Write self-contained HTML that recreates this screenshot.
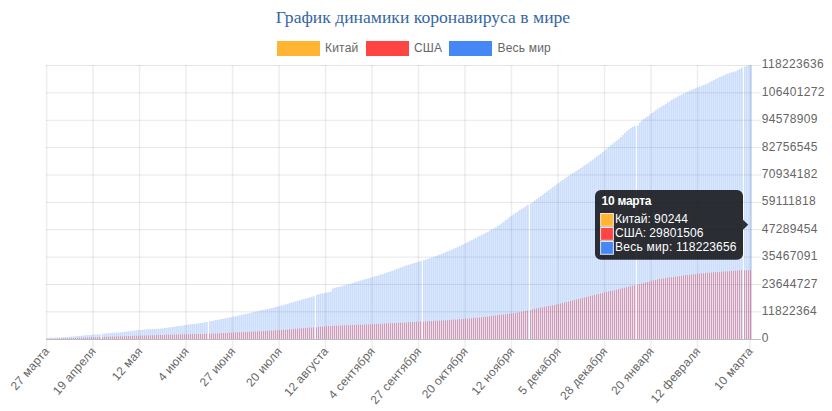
<!DOCTYPE html>
<html><head><meta charset="utf-8"><style>
html,body{margin:0;padding:0;background:#fff;width:832px;height:411px;overflow:hidden;position:relative}
.title{position:absolute;left:0;top:0;width:846px;text-align:center;font-family:"Liberation Serif",serif;font-size:17.6px;color:#3466a2;line-height:20px;top:7px;white-space:nowrap}
.leg{position:absolute;top:41.5px;height:15px}
.box{position:absolute;width:42.9px;height:15.1px}
.lt{position:absolute;font-family:"Liberation Sans",sans-serif;font-size:12px;color:#666;line-height:15px;white-space:nowrap;letter-spacing:0.2px}
</style></head><body>
<div class="title">График динамики коронавируса в мире</div>
<div class="box" style="left:277.2px;top:41.4px;background:#ffb532;border-color:#ffb532"></div>
<div class="lt" style="left:325px;top:41px">Китай</div>
<div class="box" style="left:366.4px;top:41.4px;background:#ff4444;border-color:#ff4444"></div>
<div class="lt" style="left:414px;top:41px">США</div>
<div class="box" style="left:449.4px;top:41.4px;background:#4588f5;border-color:#4588f5"></div>
<div class="lt" style="left:497.5px;top:41px">Весь мир</div>
<svg width="832" height="411" viewBox="0 0 832 411" style="position:absolute;left:0;top:0">
<rect x="46" y="65.00" width="715" height="1" fill="rgba(0,0,0,0.1)"/><rect x="46" y="92.37" width="715" height="1" fill="rgba(0,0,0,0.1)"/><rect x="46" y="119.74" width="715" height="1" fill="rgba(0,0,0,0.1)"/><rect x="46" y="147.11" width="715" height="1" fill="rgba(0,0,0,0.1)"/><rect x="46" y="174.48" width="715" height="1" fill="rgba(0,0,0,0.1)"/><rect x="46" y="201.85" width="715" height="1" fill="rgba(0,0,0,0.1)"/><rect x="46" y="229.22" width="715" height="1" fill="rgba(0,0,0,0.1)"/><rect x="46" y="256.59" width="715" height="1" fill="rgba(0,0,0,0.1)"/><rect x="46" y="283.96" width="715" height="1" fill="rgba(0,0,0,0.1)"/><rect x="46" y="311.33" width="715" height="1" fill="rgba(0,0,0,0.1)"/><rect x="45.80" y="65" width="1.5" height="285" fill="rgba(0,0,0,0.07)"/><rect x="92.30" y="65" width="1.5" height="285" fill="rgba(0,0,0,0.07)"/><rect x="138.79" y="65" width="1.5" height="285" fill="rgba(0,0,0,0.07)"/><rect x="185.29" y="65" width="1.5" height="285" fill="rgba(0,0,0,0.07)"/><rect x="231.79" y="65" width="1.5" height="285" fill="rgba(0,0,0,0.07)"/><rect x="278.28" y="65" width="1.5" height="285" fill="rgba(0,0,0,0.07)"/><rect x="324.78" y="65" width="1.5" height="285" fill="rgba(0,0,0,0.07)"/><rect x="371.28" y="65" width="1.5" height="285" fill="rgba(0,0,0,0.07)"/><rect x="417.77" y="65" width="1.5" height="285" fill="rgba(0,0,0,0.07)"/><rect x="464.27" y="65" width="1.5" height="285" fill="rgba(0,0,0,0.07)"/><rect x="510.77" y="65" width="1.5" height="285" fill="rgba(0,0,0,0.07)"/><rect x="557.26" y="65" width="1.5" height="285" fill="rgba(0,0,0,0.07)"/><rect x="603.76" y="65" width="1.5" height="285" fill="rgba(0,0,0,0.07)"/><rect x="650.26" y="65" width="1.5" height="285" fill="rgba(0,0,0,0.07)"/><rect x="696.76" y="65" width="1.5" height="285" fill="rgba(0,0,0,0.07)"/><rect x="749.32" y="65" width="1.5" height="285" fill="rgba(0,0,0,0.07)"/><rect x="46" y="339" width="715" height="1" fill="#bdbdbd"/>
<path d="M47 337.93H48V339H47ZM49 337.86H50V339H49ZM51 337.78H52V339H51ZM53 337.69H54V339H53ZM55 337.59H56V339H55ZM57 337.49H58V339H57ZM59 337.38H60V339H59ZM61 337.27H62V339H61ZM63 337.15H64V339H63ZM65 337.03H66V339H65ZM67 336.90H68V339H67ZM69 336.77H70V339H69ZM71 336.62H72V339H71ZM73 336.45H74V339H73ZM75 336.27H76V339H75ZM77 336.07H78V339H77ZM79 335.87H80V339H79ZM81 335.66H82V339H81ZM83 335.45H84V339H83ZM85 335.25H86V339H85ZM87 335.06H88V339H87ZM89 334.88H90V339H89ZM91 334.72H92V339H91ZM93 334.59H94V339H93ZM95 334.50H96V339H95ZM97 334.38H98V339H97ZM99 334.20H100V339H99ZM102 333.64H103V339H102ZM104 333.39H105V339H104ZM106 333.21H107V339H106ZM108 333.06H109V339H108ZM110 332.94H111V339H110ZM112 332.84H113V339H112ZM114 332.72H115V339H114ZM116 332.58H117V339H116ZM118 332.41H119V339H118ZM120 332.21H121V339H120ZM122 331.99H123V339H122ZM124 331.75H125V339H124ZM126 331.50H127V339H126ZM128 331.25H129V339H128ZM130 331.00H131V339H130ZM132 330.75H133V339H132ZM134 330.52H135V339H134ZM136 330.30H137V339H136ZM138 330.10H139V339H138ZM140 329.92H141V339H140ZM142 329.76H143V339H142ZM144 329.62H145V339H144ZM146 329.48H147V339H146ZM148 329.35H149V339H148ZM150 329.23H151V339H150ZM152 329.10H153V339H152ZM154 328.96H155V339H154ZM156 328.82H157V339H156ZM158 328.66H159V339H158ZM160 328.48H161V339H160ZM162 328.29H163V339H162ZM164 328.06H165V339H164ZM166 327.82H167V339H166ZM168 327.55H169V339H168ZM170 327.26H171V339H170ZM172 326.97H173V339H172ZM174 326.66H175V339H174ZM176 326.35H177V339H176ZM178 326.04H179V339H178ZM180 325.73H181V339H180ZM182 325.42H183V339H182ZM184 325.13H185V339H184ZM186 324.85H187V339H186ZM188 324.58H189V339H188ZM190 324.32H191V339H190ZM192 324.07H193V339H192ZM194 323.81H195V339H194ZM196 323.55H197V339H196ZM198 323.27H199V339H198ZM200 322.97H201V339H200ZM202 322.64H203V339H202ZM204 322.29H205V339H204ZM206 321.89H207V339H206ZM209 321.36H210V339H209ZM211 320.90H212V339H211ZM213 320.48H214V339H213ZM215 320.07H216V339H215ZM217 319.69H218V339H217ZM219 319.31H220V339H219ZM221 318.95H222V339H221ZM223 318.58H224V339H223ZM225 318.21H226V339H225ZM227 317.83H228V339H227ZM229 317.43H230V339H229ZM231 317.02H232V339H231ZM233 316.59H234V339H233ZM235 316.16H236V339H235ZM237 315.72H238V339H237ZM239 315.28H240V339H239ZM241 314.83H242V339H241ZM243 314.37H244V339H243ZM245 313.92H246V339H245ZM247 313.46H248V339H247ZM249 313.00H250V339H249ZM251 312.54H252V339H251ZM253 312.08H254V339H253ZM255 311.62H256V339H255ZM257 311.17H258V339H257ZM259 310.72H260V339H259ZM261 310.27H262V339H261ZM263 309.82H264V339H263ZM265 309.36H266V339H265ZM267 308.91H268V339H267ZM269 308.44H270V339H269ZM271 307.97H272V339H271ZM273 307.49H274V339H273ZM275 307.00H276V339H275ZM277 306.49H278V339H277ZM279 305.97H280V339H279ZM281 305.43H282V339H281ZM283 304.87H284V339H283ZM285 304.30H286V339H285ZM287 303.71H288V339H287ZM289 303.12H290V339H289ZM291 302.53H292V339H291ZM293 301.93H294V339H293ZM295 301.33H296V339H295ZM297 300.73H298V339H297ZM299 300.14H300V339H299ZM301 299.56H302V339H301ZM303 299.04H304V339H303ZM305 298.54H306V339H305ZM307 298.04H308V339H307ZM309 297.50H310V339H309ZM311 296.87H312V339H311ZM313 296.11H314V339H313ZM316 294.95H317V339H316ZM318 294.30H319V339H318ZM320 293.80H321V339H320ZM322 293.38H323V339H322ZM324 292.94H325V339H324ZM326 292.53H327V339H326ZM328 292.16H329V339H328ZM330 291.47H331V339H330ZM332 288.46H333V339H332ZM334 287.69H335V339H334ZM336 287.24H337V339H336ZM338 286.88H339V339H338ZM340 286.39H341V339H340ZM342 285.85H343V339H342ZM344 285.31H345V339H344ZM346 284.75H347V339H346ZM348 284.17H349V339H348ZM350 283.56H351V339H350ZM352 282.94H353V339H352ZM354 282.30H355V339H354ZM356 281.66H357V339H356ZM358 281.05H359V339H358ZM360 280.45H361V339H360ZM362 279.87H363V339H362ZM364 279.29H365V339H364ZM366 278.72H367V339H366ZM368 278.15H369V339H368ZM370 277.57H371V339H370ZM372 276.97H373V339H372ZM374 276.37H375V339H374ZM376 275.75H377V339H376ZM378 275.13H379V339H378ZM380 274.51H381V339H380ZM382 273.89H383V339H382ZM384 273.25H385V339H384ZM386 272.61H387V339H386ZM388 271.94H389V339H388ZM390 271.27H391V339H390ZM392 270.57H393V339H392ZM394 269.84H395V339H394ZM396 269.09H397V339H396ZM398 268.24H399V339H398ZM400 267.38H401V339H400ZM402 266.63H403V339H402ZM404 265.94H405V339H404ZM406 265.29H407V339H406ZM408 264.66H409V339H408ZM410 264.05H411V339H410ZM412 263.45H413V339H412ZM414 262.85H415V339H414ZM416 262.23H417V339H416ZM418 261.59H419V339H418ZM420 260.92H421V339H420ZM423 260.24H424V339H423ZM425 259.56H426V339H425ZM427 258.87H428V339H427ZM429 258.17H430V339H429ZM431 257.46H432V339H431ZM433 256.74H434V339H433ZM435 256.01H436V339H435ZM437 255.26H438V339H437ZM439 254.50H440V339H439ZM441 253.72H442V339H441ZM443 252.92H444V339H443ZM445 252.10H446V339H445ZM447 251.27H448V339H447ZM449 250.42H450V339H449ZM451 249.56H452V339H451ZM453 248.68H454V339H453ZM455 247.79H456V339H455ZM457 246.88H458V339H457ZM459 245.96H460V339H459ZM461 245.03H462V339H461ZM463 244.08H464V339H463ZM465 243.12H466V339H465ZM467 242.12H468V339H467ZM469 241.10H470V339H469ZM471 240.06H472V339H471ZM473 239.00H474V339H473ZM475 237.94H476V339H475ZM477 236.86H478V339H477ZM479 235.80H480V339H479ZM481 234.74H482V339H481ZM483 233.71H484V339H483ZM485 232.69H486V339H485ZM487 231.66H488V339H487ZM489 230.61H490V339H489ZM491 229.54H492V339H491ZM493 228.43H494V339H493ZM495 227.27H496V339H495ZM497 226.05H498V339H497ZM499 224.76H500V339H499ZM501 223.31H502V339H501ZM503 221.71H504V339H503ZM505 220.05H506V339H505ZM507 218.40H508V339H507ZM509 216.83H510V339H509ZM511 215.39H512V339H511ZM513 214.02H514V339H513ZM515 212.69H516V339H515ZM517 211.39H518V339H517ZM519 210.11H520V339H519ZM521 208.83H522V339H521ZM523 207.54H524V339H523ZM525 206.23H526V339H525ZM527 204.87H528V339H527ZM530 203.46H531V339H530ZM532 202.01H533V339H532ZM534 200.54H535V339H534ZM536 199.05H537V339H536ZM538 197.56H539V339H538ZM540 196.06H541V339H540ZM542 194.57H543V339H542ZM544 193.08H545V339H544ZM546 191.60H547V339H546ZM548 190.11H549V339H548ZM550 188.63H551V339H550ZM552 187.15H553V339H552ZM554 185.68H555V339H554ZM556 184.22H557V339H556ZM558 182.78H559V339H558ZM560 181.33H561V339H560ZM562 179.89H563V339H562ZM564 178.46H565V339H564ZM566 177.06H567V339H566ZM568 175.69H569V339H568ZM570 174.36H571V339H570ZM572 173.09H573V339H572ZM574 171.84H575V339H574ZM576 170.59H577V339H576ZM578 169.30H579V339H578ZM580 167.96H581V339H580ZM582 166.59H583V339H582ZM584 165.21H585V339H584ZM586 163.82H587V339H586ZM588 162.41H589V339H588ZM590 160.98H591V339H590ZM592 159.53H593V339H592ZM594 158.06H595V339H594ZM596 156.57H597V339H596ZM598 155.05H599V339H598ZM600 153.51H601V339H600ZM602 151.94H603V339H602ZM604 150.31H605V339H604ZM606 148.58H607V339H606ZM608 146.83H609V339H608ZM610 145.11H611V339H610ZM612 143.49H613V339H612ZM614 141.94H615V339H614ZM616 140.41H617V339H616ZM618 138.80H619V339H618ZM620 137.03H621V339H620ZM622 135.08H623V339H622ZM624 133.11H625V339H624ZM626 131.26H627V339H626ZM628 129.62H629V339H628ZM630 128.02H631V339H630ZM632 126.72H633V339H632ZM634 126.06H635V339H634ZM637 125.59H638V339H637ZM639 122.58H640V339H639ZM641 120.52H642V339H641ZM643 118.88H644V339H643ZM645 117.48H646V339H645ZM647 116.16H648V339H647ZM649 114.76H650V339H649ZM651 113.11H652V339H651ZM653 111.39H654V339H653ZM655 109.88H656V339H655ZM657 108.64H658V339H657ZM659 107.51H660V339H659ZM661 106.33H662V339H661ZM663 105.14H664V339H663ZM665 103.91H666V339H665ZM667 102.58H668V339H667ZM669 101.17H670V339H669ZM671 99.85H672V339H671ZM673 98.69H674V339H673ZM675 97.61H676V339H675ZM677 96.55H678V339H677ZM679 95.53H680V339H679ZM681 94.52H682V339H681ZM683 93.48H684V339H683ZM685 92.39H686V339H685ZM687 91.40H688V339H687ZM689 90.58H690V339H689ZM691 89.85H692V339H691ZM693 89.08H694V339H693ZM695 88.23H696V339H695ZM697 87.36H698V339H697ZM699 86.55H700V339H699ZM701 85.82H702V339H701ZM703 85.05H704V339H703ZM705 84.15H706V339H705ZM707 83.14H708V339H707ZM709 82.12H710V339H709ZM711 81.10H712V339H711ZM713 80.07H714V339H713ZM715 79.09H716V339H715ZM717 78.11H718V339H717ZM719 77.12H720V339H719ZM721 76.14H722V339H721ZM723 75.21H724V339H723ZM725 74.33H726V339H725ZM727 73.54H728V339H727ZM729 72.85H730V339H729ZM731 72.33H732V339H731ZM733 71.84H734V339H733ZM735 71.16H736V339H735ZM737 70.09H738V339H737ZM739 68.83H740V339H739ZM741 67.67H742V339H741ZM744 66.74H745V339H744ZM746 65.91H747V339H746ZM748 65.48H749V339H748ZM750 65.30H751V339H750Z" fill="rgba(66,133,244,0.27)"/><path d="M48 337.93H49V339H48ZM50 337.86H51V339H50ZM52 337.78H53V339H52ZM54 337.69H55V339H54ZM56 337.59H57V339H56ZM58 337.49H59V339H58ZM60 337.38H61V339H60ZM62 337.27H63V339H62ZM64 337.15H65V339H64ZM66 337.03H67V339H66ZM68 336.90H69V339H68ZM70 336.77H71V339H70ZM72 336.62H73V339H72ZM74 336.45H75V339H74ZM76 336.27H77V339H76ZM78 336.07H79V339H78ZM80 335.87H81V339H80ZM82 335.66H83V339H82ZM84 335.45H85V339H84ZM86 335.25H87V339H86ZM88 335.06H89V339H88ZM90 334.88H91V339H90ZM92 334.72H93V339H92ZM94 334.59H95V339H94ZM96 334.50H97V339H96ZM98 334.38H99V339H98ZM100 334.20H101V339H100ZM103 333.64H104V339H103ZM105 333.39H106V339H105ZM107 333.21H108V339H107ZM109 333.06H110V339H109ZM111 332.94H112V339H111ZM113 332.84H114V339H113ZM115 332.72H116V339H115ZM117 332.58H118V339H117ZM119 332.41H120V339H119ZM121 332.21H122V339H121ZM123 331.99H124V339H123ZM125 331.75H126V339H125ZM127 331.50H128V339H127ZM129 331.25H130V339H129ZM131 331.00H132V339H131ZM133 330.75H134V339H133ZM135 330.52H136V339H135ZM137 330.30H138V339H137ZM139 330.10H140V339H139ZM141 329.92H142V339H141ZM143 329.76H144V339H143ZM145 329.62H146V339H145ZM147 329.48H148V339H147ZM149 329.35H150V339H149ZM151 329.23H152V339H151ZM153 329.10H154V339H153ZM155 328.96H156V339H155ZM157 328.82H158V339H157ZM159 328.66H160V339H159ZM161 328.48H162V339H161ZM163 328.29H164V339H163ZM165 328.06H166V339H165ZM167 327.82H168V339H167ZM169 327.55H170V339H169ZM171 327.26H172V339H171ZM173 326.97H174V339H173ZM175 326.66H176V339H175ZM177 326.35H178V339H177ZM179 326.04H180V339H179ZM181 325.73H182V339H181ZM183 325.42H184V339H183ZM185 325.13H186V339H185ZM187 324.85H188V339H187ZM189 324.58H190V339H189ZM191 324.32H192V339H191ZM193 324.07H194V339H193ZM195 323.81H196V339H195ZM197 323.55H198V339H197ZM199 323.27H200V339H199ZM201 322.97H202V339H201ZM203 322.64H204V339H203ZM205 322.29H206V339H205ZM207 321.89H208V339H207ZM210 321.36H211V339H210ZM212 320.90H213V339H212ZM214 320.48H215V339H214ZM216 320.07H217V339H216ZM218 319.69H219V339H218ZM220 319.31H221V339H220ZM222 318.95H223V339H222ZM224 318.58H225V339H224ZM226 318.21H227V339H226ZM228 317.83H229V339H228ZM230 317.43H231V339H230ZM232 317.02H233V339H232ZM234 316.59H235V339H234ZM236 316.16H237V339H236ZM238 315.72H239V339H238ZM240 315.28H241V339H240ZM242 314.83H243V339H242ZM244 314.37H245V339H244ZM246 313.92H247V339H246ZM248 313.46H249V339H248ZM250 313.00H251V339H250ZM252 312.54H253V339H252ZM254 312.08H255V339H254ZM256 311.62H257V339H256ZM258 311.17H259V339H258ZM260 310.72H261V339H260ZM262 310.27H263V339H262ZM264 309.82H265V339H264ZM266 309.36H267V339H266ZM268 308.91H269V339H268ZM270 308.44H271V339H270ZM272 307.97H273V339H272ZM274 307.49H275V339H274ZM276 307.00H277V339H276ZM278 306.49H279V339H278ZM280 305.97H281V339H280ZM282 305.43H283V339H282ZM284 304.87H285V339H284ZM286 304.30H287V339H286ZM288 303.71H289V339H288ZM290 303.12H291V339H290ZM292 302.53H293V339H292ZM294 301.93H295V339H294ZM296 301.33H297V339H296ZM298 300.73H299V339H298ZM300 300.14H301V339H300ZM302 299.56H303V339H302ZM304 299.04H305V339H304ZM306 298.54H307V339H306ZM308 298.04H309V339H308ZM310 297.50H311V339H310ZM312 296.87H313V339H312ZM314 296.11H315V339H314ZM317 294.95H318V339H317ZM319 294.30H320V339H319ZM321 293.80H322V339H321ZM323 293.38H324V339H323ZM325 292.94H326V339H325ZM327 292.53H328V339H327ZM329 292.16H330V339H329ZM331 291.47H332V339H331ZM333 288.46H334V339H333ZM335 287.69H336V339H335ZM337 287.24H338V339H337ZM339 286.88H340V339H339ZM341 286.39H342V339H341ZM343 285.85H344V339H343ZM345 285.31H346V339H345ZM347 284.75H348V339H347ZM349 284.17H350V339H349ZM351 283.56H352V339H351ZM353 282.94H354V339H353ZM355 282.30H356V339H355ZM357 281.66H358V339H357ZM359 281.05H360V339H359ZM361 280.45H362V339H361ZM363 279.87H364V339H363ZM365 279.29H366V339H365ZM367 278.72H368V339H367ZM369 278.15H370V339H369ZM371 277.57H372V339H371ZM373 276.97H374V339H373ZM375 276.37H376V339H375ZM377 275.75H378V339H377ZM379 275.13H380V339H379ZM381 274.51H382V339H381ZM383 273.89H384V339H383ZM385 273.25H386V339H385ZM387 272.61H388V339H387ZM389 271.94H390V339H389ZM391 271.27H392V339H391ZM393 270.57H394V339H393ZM395 269.84H396V339H395ZM397 269.09H398V339H397ZM399 268.24H400V339H399ZM401 267.38H402V339H401ZM403 266.63H404V339H403ZM405 265.94H406V339H405ZM407 265.29H408V339H407ZM409 264.66H410V339H409ZM411 264.05H412V339H411ZM413 263.45H414V339H413ZM415 262.85H416V339H415ZM417 262.23H418V339H417ZM419 261.59H420V339H419ZM421 260.92H422V339H421ZM424 260.24H425V339H424ZM426 259.56H427V339H426ZM428 258.87H429V339H428ZM430 258.17H431V339H430ZM432 257.46H433V339H432ZM434 256.74H435V339H434ZM436 256.01H437V339H436ZM438 255.26H439V339H438ZM440 254.50H441V339H440ZM442 253.72H443V339H442ZM444 252.92H445V339H444ZM446 252.10H447V339H446ZM448 251.27H449V339H448ZM450 250.42H451V339H450ZM452 249.56H453V339H452ZM454 248.68H455V339H454ZM456 247.79H457V339H456ZM458 246.88H459V339H458ZM460 245.96H461V339H460ZM462 245.03H463V339H462ZM464 244.08H465V339H464ZM466 243.12H467V339H466ZM468 242.12H469V339H468ZM470 241.10H471V339H470ZM472 240.06H473V339H472ZM474 239.00H475V339H474ZM476 237.94H477V339H476ZM478 236.86H479V339H478ZM480 235.80H481V339H480ZM482 234.74H483V339H482ZM484 233.71H485V339H484ZM486 232.69H487V339H486ZM488 231.66H489V339H488ZM490 230.61H491V339H490ZM492 229.54H493V339H492ZM494 228.43H495V339H494ZM496 227.27H497V339H496ZM498 226.05H499V339H498ZM500 224.76H501V339H500ZM502 223.31H503V339H502ZM504 221.71H505V339H504ZM506 220.05H507V339H506ZM508 218.40H509V339H508ZM510 216.83H511V339H510ZM512 215.39H513V339H512ZM514 214.02H515V339H514ZM516 212.69H517V339H516ZM518 211.39H519V339H518ZM520 210.11H521V339H520ZM522 208.83H523V339H522ZM524 207.54H525V339H524ZM526 206.23H527V339H526ZM528 204.87H529V339H528ZM531 203.46H532V339H531ZM533 202.01H534V339H533ZM535 200.54H536V339H535ZM537 199.05H538V339H537ZM539 197.56H540V339H539ZM541 196.06H542V339H541ZM543 194.57H544V339H543ZM545 193.08H546V339H545ZM547 191.60H548V339H547ZM549 190.11H550V339H549ZM551 188.63H552V339H551ZM553 187.15H554V339H553ZM555 185.68H556V339H555ZM557 184.22H558V339H557ZM559 182.78H560V339H559ZM561 181.33H562V339H561ZM563 179.89H564V339H563ZM565 178.46H566V339H565ZM567 177.06H568V339H567ZM569 175.69H570V339H569ZM571 174.36H572V339H571ZM573 173.09H574V339H573ZM575 171.84H576V339H575ZM577 170.59H578V339H577ZM579 169.30H580V339H579ZM581 167.96H582V339H581ZM583 166.59H584V339H583ZM585 165.21H586V339H585ZM587 163.82H588V339H587ZM589 162.41H590V339H589ZM591 160.98H592V339H591ZM593 159.53H594V339H593ZM595 158.06H596V339H595ZM597 156.57H598V339H597ZM599 155.05H600V339H599ZM601 153.51H602V339H601ZM603 151.94H604V339H603ZM605 150.31H606V339H605ZM607 148.58H608V339H607ZM609 146.83H610V339H609ZM611 145.11H612V339H611ZM613 143.49H614V339H613ZM615 141.94H616V339H615ZM617 140.41H618V339H617ZM619 138.80H620V339H619ZM621 137.03H622V339H621ZM623 135.08H624V339H623ZM625 133.11H626V339H625ZM627 131.26H628V339H627ZM629 129.62H630V339H629ZM631 128.02H632V339H631ZM633 126.72H634V339H633ZM635 126.06H636V339H635ZM638 125.59H639V339H638ZM640 122.58H641V339H640ZM642 120.52H643V339H642ZM644 118.88H645V339H644ZM646 117.48H647V339H646ZM648 116.16H649V339H648ZM650 114.76H651V339H650ZM652 113.11H653V339H652ZM654 111.39H655V339H654ZM656 109.88H657V339H656ZM658 108.64H659V339H658ZM660 107.51H661V339H660ZM662 106.33H663V339H662ZM664 105.14H665V339H664ZM666 103.91H667V339H666ZM668 102.58H669V339H668ZM670 101.17H671V339H670ZM672 99.85H673V339H672ZM674 98.69H675V339H674ZM676 97.61H677V339H676ZM678 96.55H679V339H678ZM680 95.53H681V339H680ZM682 94.52H683V339H682ZM684 93.48H685V339H684ZM686 92.39H687V339H686ZM688 91.40H689V339H688ZM690 90.58H691V339H690ZM692 89.85H693V339H692ZM694 89.08H695V339H694ZM696 88.23H697V339H696ZM698 87.36H699V339H698ZM700 86.55H701V339H700ZM702 85.82H703V339H702ZM704 85.05H705V339H704ZM706 84.15H707V339H706ZM708 83.14H709V339H708ZM710 82.12H711V339H710ZM712 81.10H713V339H712ZM714 80.07H715V339H714ZM716 79.09H717V339H716ZM718 78.11H719V339H718ZM720 77.12H721V339H720ZM722 76.14H723V339H722ZM724 75.21H725V339H724ZM726 74.33H727V339H726ZM728 73.54H729V339H728ZM730 72.85H731V339H730ZM732 72.33H733V339H732ZM734 71.84H735V339H734ZM736 71.16H737V339H736ZM738 70.09H739V339H738ZM740 68.83H741V339H740ZM742 67.67H743V339H742ZM745 66.74H746V339H745ZM747 65.91H748V339H747ZM749 65.48H750V339H749ZM751 65.30H752V339H751Z" fill="rgba(66,133,244,0.20)"/><path d="M47 338.86H48V339H47ZM49 338.81H50V339H49ZM51 338.75H52V339H51ZM53 338.69H54V339H53ZM55 338.63H56V339H55ZM57 338.57H58V339H57ZM59 338.50H60V339H59ZM61 338.44H62V339H61ZM63 338.37H64V339H63ZM65 338.31H66V339H65ZM67 338.24H68V339H67ZM69 338.17H70V339H69ZM71 338.10H72V339H71ZM73 338.03H74V339H73ZM75 337.95H76V339H75ZM77 337.88H78V339H77ZM79 337.81H80V339H79ZM81 337.73H82V339H81ZM83 337.66H84V339H83ZM85 337.58H86V339H85ZM87 337.51H88V339H87ZM89 337.43H90V339H89ZM91 337.35H92V339H91ZM93 337.27H94V339H93ZM95 337.19H96V339H95ZM97 337.10H98V339H97ZM99 337.01H100V339H99ZM102 336.94H103V339H102ZM104 336.86H105V339H104ZM106 336.79H107V339H106ZM108 336.72H109V339H108ZM110 336.65H111V339H110ZM112 336.58H113V339H112ZM114 336.51H115V339H114ZM116 336.44H117V339H116ZM118 336.37H119V339H118ZM120 336.31H121V339H120ZM122 336.24H123V339H122ZM124 336.18H125V339H124ZM126 336.11H127V339H126ZM128 336.05H129V339H128ZM130 335.98H131V339H130ZM132 335.92H133V339H132ZM134 335.86H135V339H134ZM136 335.79H137V339H136ZM138 335.73H139V339H138ZM140 335.66H141V339H140ZM142 335.60H143V339H142ZM144 335.53H145V339H144ZM146 335.46H147V339H146ZM148 335.40H149V339H148ZM150 335.33H151V339H150ZM152 335.27H153V339H152ZM154 335.20H155V339H154ZM156 335.13H157V339H156ZM158 335.07H159V339H158ZM160 335.00H161V339H160ZM162 334.94H163V339H162ZM164 334.88H165V339H164ZM166 334.81H167V339H166ZM168 334.75H169V339H168ZM170 334.69H171V339H170ZM172 334.63H173V339H172ZM174 334.57H175V339H174ZM176 334.51H177V339H176ZM178 334.45H179V339H178ZM180 334.40H181V339H180ZM182 334.34H183V339H182ZM184 334.29H185V339H184ZM186 334.24H187V339H186ZM188 334.20H189V339H188ZM190 334.15H191V339H190ZM192 334.11H193V339H192ZM194 334.07H195V339H194ZM196 334.03H197V339H196ZM198 333.99H199V339H198ZM200 333.94H201V339H200ZM202 333.90H203V339H202ZM204 333.84H205V339H204ZM206 333.78H207V339H206ZM209 333.72H210V339H209ZM211 333.65H212V339H211ZM213 333.57H214V339H213ZM215 333.48H216V339H215ZM217 333.40H218V339H217ZM219 333.30H220V339H219ZM221 333.21H222V339H221ZM223 333.11H224V339H223ZM225 333.02H226V339H225ZM227 332.92H228V339H227ZM229 332.82H230V339H229ZM231 332.72H232V339H231ZM233 332.62H234V339H233ZM235 332.53H236V339H235ZM237 332.43H238V339H237ZM239 332.33H240V339H239ZM241 332.23H242V339H241ZM243 332.13H244V339H243ZM245 332.03H246V339H245ZM247 331.93H248V339H247ZM249 331.83H250V339H249ZM251 331.72H252V339H251ZM253 331.62H254V339H253ZM255 331.51H256V339H255ZM257 331.40H258V339H257ZM259 331.29H260V339H259ZM261 331.18H262V339H261ZM263 331.07H264V339H263ZM265 330.95H266V339H265ZM267 330.83H268V339H267ZM269 330.71H270V339H269ZM271 330.59H272V339H271ZM273 330.47H274V339H273ZM275 330.34H276V339H275ZM277 330.21H278V339H277ZM279 330.08H280V339H279ZM281 329.94H282V339H281ZM283 329.80H284V339H283ZM285 329.65H286V339H285ZM287 329.50H288V339H287ZM289 329.35H290V339H289ZM291 329.19H292V339H291ZM293 329.03H294V339H293ZM295 328.86H296V339H295ZM297 328.69H298V339H297ZM299 328.53H300V339H299ZM301 328.36H302V339H301ZM303 328.19H304V339H303ZM305 328.02H306V339H305ZM307 327.84H308V339H307ZM309 327.67H310V339H309ZM311 327.50H312V339H311ZM313 327.33H314V339H313ZM316 327.15H317V339H316ZM318 326.96H319V339H318ZM320 326.77H321V339H320ZM322 326.58H323V339H322ZM324 326.39H325V339H324ZM326 326.22H327V339H326ZM328 326.08H329V339H328ZM330 325.95H331V339H330ZM332 325.84H333V339H332ZM334 325.73H335V339H334ZM336 325.63H337V339H336ZM338 325.54H339V339H338ZM340 325.45H341V339H340ZM342 325.37H343V339H342ZM344 325.29H345V339H344ZM346 325.21H347V339H346ZM348 325.13H349V339H348ZM350 325.06H351V339H350ZM352 324.99H353V339H352ZM354 324.92H355V339H354ZM356 324.85H357V339H356ZM358 324.78H359V339H358ZM360 324.70H361V339H360ZM362 324.63H363V339H362ZM364 324.55H365V339H364ZM366 324.47H367V339H366ZM368 324.39H369V339H368ZM370 324.30H371V339H370ZM372 324.20H373V339H372ZM374 324.11H375V339H374ZM376 324.01H377V339H376ZM378 323.91H379V339H378ZM380 323.81H381V339H380ZM382 323.71H383V339H382ZM384 323.61H385V339H384ZM386 323.51H387V339H386ZM388 323.40H389V339H388ZM390 323.30H391V339H390ZM392 323.19H393V339H392ZM394 323.08H395V339H394ZM396 322.97H397V339H396ZM398 322.86H399V339H398ZM400 322.75H401V339H400ZM402 322.64H403V339H402ZM404 322.53H405V339H404ZM406 322.42H407V339H406ZM408 322.30H409V339H408ZM410 322.19H411V339H410ZM412 322.08H413V339H412ZM414 321.96H415V339H414ZM416 321.85H417V339H416ZM418 321.73H419V339H418ZM420 321.62H421V339H420ZM423 321.50H424V339H423ZM425 321.39H426V339H425ZM427 321.28H428V339H427ZM429 321.17H430V339H429ZM431 321.06H432V339H431ZM433 320.94H434V339H433ZM435 320.83H436V339H435ZM437 320.72H438V339H437ZM439 320.60H440V339H439ZM441 320.49H442V339H441ZM443 320.37H444V339H443ZM445 320.25H446V339H445ZM447 320.13H448V339H447ZM449 320.00H450V339H449ZM451 319.87H452V339H451ZM453 319.74H454V339H453ZM455 319.60H456V339H455ZM457 319.46H458V339H457ZM459 319.31H460V339H459ZM461 319.16H462V339H461ZM463 319.01H464V339H463ZM465 318.85H466V339H465ZM467 318.68H468V339H467ZM469 318.50H470V339H469ZM471 318.31H472V339H471ZM473 318.12H474V339H473ZM475 317.92H476V339H475ZM477 317.71H478V339H477ZM479 317.49H480V339H479ZM481 317.27H482V339H481ZM483 317.05H484V339H483ZM485 316.81H486V339H485ZM487 316.58H488V339H487ZM489 316.33H490V339H489ZM491 316.09H492V339H491ZM493 315.84H494V339H493ZM495 315.58H496V339H495ZM497 315.32H498V339H497ZM499 315.06H500V339H499ZM501 314.80H502V339H501ZM503 314.55H504V339H503ZM505 314.30H506V339H505ZM507 314.04H508V339H507ZM509 313.78H510V339H509ZM511 313.51H512V339H511ZM513 313.23H514V339H513ZM515 312.92H516V339H515ZM517 312.60H518V339H517ZM519 312.26H520V339H519ZM521 311.89H522V339H521ZM523 311.49H524V339H523ZM525 311.06H526V339H525ZM527 310.59H528V339H527ZM530 309.89H531V339H530ZM532 309.36H533V339H532ZM534 308.86H535V339H534ZM536 308.41H537V339H536ZM538 307.98H539V339H538ZM540 307.58H541V339H540ZM542 307.20H543V339H542ZM544 306.83H545V339H544ZM546 306.47H547V339H546ZM548 306.10H549V339H548ZM550 305.72H551V339H550ZM552 305.33H553V339H552ZM554 304.92H555V339H554ZM556 304.48H557V339H556ZM558 304.01H559V339H558ZM560 303.53H561V339H560ZM562 303.03H563V339H562ZM564 302.52H565V339H564ZM566 302.01H567V339H566ZM568 301.48H569V339H568ZM570 300.96H571V339H570ZM572 300.43H573V339H572ZM574 299.91H575V339H574ZM576 299.40H577V339H576ZM578 298.89H579V339H578ZM580 298.39H581V339H580ZM582 297.89H583V339H582ZM584 297.40H585V339H584ZM586 296.91H587V339H586ZM588 296.42H589V339H588ZM590 295.94H591V339H590ZM592 295.45H593V339H592ZM594 294.97H595V339H594ZM596 294.48H597V339H596ZM598 294.00H599V339H598ZM600 293.52H601V339H600ZM602 293.03H603V339H602ZM604 292.55H605V339H604ZM606 292.07H607V339H606ZM608 291.59H609V339H608ZM610 291.11H611V339H610ZM612 290.64H613V339H612ZM614 290.16H615V339H614ZM616 289.69H617V339H616ZM618 289.22H619V339H618ZM620 288.74H621V339H620ZM622 288.26H623V339H622ZM624 287.78H625V339H624ZM626 287.30H627V339H626ZM628 286.81H629V339H628ZM630 286.32H631V339H630ZM632 285.82H633V339H632ZM634 285.32H635V339H634ZM637 284.80H638V339H637ZM639 284.26H640V339H639ZM641 283.69H642V339H641ZM643 283.11H644V339H643ZM645 282.53H646V339H645ZM647 281.95H648V339H647ZM649 281.39H650V339H649ZM651 280.85H652V339H651ZM653 280.34H654V339H653ZM655 279.88H656V339H655ZM657 279.46H658V339H657ZM659 279.09H660V339H659ZM661 278.75H662V339H661ZM663 278.42H664V339H663ZM665 278.12H666V339H665ZM667 277.83H668V339H667ZM669 277.55H670V339H669ZM671 277.27H672V339H671ZM673 277.01H674V339H673ZM675 276.74H676V339H675ZM677 276.46H678V339H677ZM679 276.18H680V339H679ZM681 275.89H682V339H681ZM683 275.60H684V339H683ZM685 275.30H686V339H685ZM687 275.01H688V339H687ZM689 274.72H690V339H689ZM691 274.45H692V339H691ZM693 274.19H694V339H693ZM695 273.96H696V339H695ZM697 273.74H698V339H697ZM699 273.54H700V339H699ZM701 273.35H702V339H701ZM703 273.16H704V339H703ZM705 272.98H706V339H705ZM707 272.81H708V339H707ZM709 272.65H710V339H709ZM711 272.49H712V339H711ZM713 272.33H714V339H713ZM715 272.17H716V339H715ZM717 272.02H718V339H717ZM719 271.87H720V339H719ZM721 271.71H722V339H721ZM723 271.55H724V339H723ZM725 271.39H726V339H725ZM727 271.23H728V339H727ZM729 271.08H730V339H729ZM731 270.93H732V339H731ZM733 270.79H734V339H733ZM735 270.66H736V339H735ZM737 270.55H738V339H737ZM739 270.45H740V339H739ZM741 270.37H742V339H741ZM744 270.30H745V339H744ZM746 270.24H747V339H746ZM748 270.19H749V339H748ZM750 270.15H751V339H750Z" fill="rgba(255,64,69,0.46)"/><rect x="750" y="65.30" width="2" height="273.70" fill="rgba(90,90,110,0.07)"/>
<g font-family="Liberation Sans, sans-serif" font-size="12" fill="#666"><text x="761.8" y="68.45" letter-spacing="0.33">118223636</text><text x="761.8" y="95.84" letter-spacing="0.33">106401272</text><text x="761.8" y="123.23" letter-spacing="0.33">94578909</text><text x="761.8" y="150.62" letter-spacing="0.33">82756545</text><text x="761.8" y="178.01" letter-spacing="0.33">70934182</text><text x="761.8" y="205.40" letter-spacing="0.33">59111818</text><text x="761.8" y="232.79" letter-spacing="0.33">47289454</text><text x="761.8" y="260.18" letter-spacing="0.33">35467091</text><text x="761.8" y="287.57" letter-spacing="0.33">23644727</text><text x="761.8" y="314.96" letter-spacing="0.33">11822364</text><text x="761.8" y="342.35" letter-spacing="0.33">0</text></g>
<g font-family="Liberation Sans, sans-serif" font-size="12" fill="#666"><text transform="translate(47.1,349) rotate(-49)" text-anchor="end" dy="4" letter-spacing="0.25">27 марта</text><text transform="translate(93.6,349) rotate(-49)" text-anchor="end" dy="4" letter-spacing="0.25">19 апреля</text><text transform="translate(140.1,349) rotate(-49)" text-anchor="end" dy="4" letter-spacing="0.25">12 мая</text><text transform="translate(186.6,349) rotate(-49)" text-anchor="end" dy="4" letter-spacing="0.25">4 июня</text><text transform="translate(233.1,349) rotate(-49)" text-anchor="end" dy="4" letter-spacing="0.25">27 июня</text><text transform="translate(279.6,349) rotate(-49)" text-anchor="end" dy="4" letter-spacing="0.25">20 июля</text><text transform="translate(326.1,349) rotate(-49)" text-anchor="end" dy="4" letter-spacing="0.25">12 августа</text><text transform="translate(372.6,349) rotate(-49)" text-anchor="end" dy="4" letter-spacing="0.25">4 сентября</text><text transform="translate(419.1,349) rotate(-49)" text-anchor="end" dy="4" letter-spacing="0.25">27 сентября</text><text transform="translate(465.6,349) rotate(-49)" text-anchor="end" dy="4" letter-spacing="0.25">20 октября</text><text transform="translate(512.1,349) rotate(-49)" text-anchor="end" dy="4" letter-spacing="0.25">12 ноября</text><text transform="translate(558.6,349) rotate(-49)" text-anchor="end" dy="4" letter-spacing="0.25">5 декабря</text><text transform="translate(605.1,349) rotate(-49)" text-anchor="end" dy="4" letter-spacing="0.25">28 декабря</text><text transform="translate(651.6,349) rotate(-49)" text-anchor="end" dy="4" letter-spacing="0.25">20 января</text><text transform="translate(698.1,349) rotate(-49)" text-anchor="end" dy="4" letter-spacing="0.25">12 февраля</text><text transform="translate(750.6,349) rotate(-49)" text-anchor="end" dy="4" letter-spacing="0.25">10 марта</text></g>
<g>
<rect x="595" y="190" width="148" height="69.8" rx="6" fill="rgba(0,0,0,0.8)"/>
<path d="M743 219.7L748.2 224.7L743 229.7Z" fill="rgba(0,0,0,0.8)"/>
<text x="601.5" y="205" font-family="Liberation Sans, sans-serif" font-size="12" font-weight="bold" fill="#fff" letter-spacing="-0.25">10 марта</text>
<g font-family="Liberation Sans, sans-serif" font-size="12" fill="#fff">
<rect x="600.6" y="213.5" width="12.8" height="12.8" fill="#ffb532" stroke="rgba(255,255,255,0.85)" stroke-width="1"/>
<text x="615" y="222.6">Китай: <tspan letter-spacing="0.1">90244</tspan></text>
<rect x="600.6" y="227.5" width="12.8" height="12.8" fill="#ff4444" stroke="rgba(255,255,255,0.85)" stroke-width="1"/>
<text x="615" y="236.6">США: <tspan letter-spacing="0.1">29801506</tspan></text>
<rect x="600.6" y="241.5" width="12.8" height="12.8" fill="#4588f5" stroke="rgba(255,255,255,0.85)" stroke-width="1"/>
<text x="615" y="250.6"><tspan letter-spacing="0.25">Весь мир: </tspan><tspan letter-spacing="0.15">118223656</tspan></text>
</g>
</g>
</svg>
</body></html>
